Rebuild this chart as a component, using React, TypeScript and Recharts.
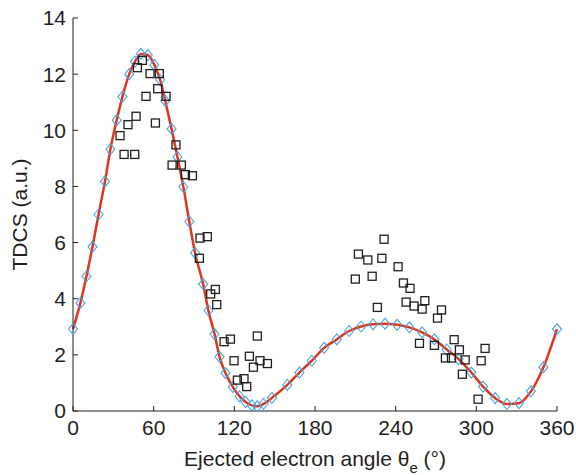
import React from 'react';
import { ComposedChart, Line, Scatter, XAxis, YAxis } from 'recharts';

// theory (red line + blue diamonds)
const theoryAngle = [
  0, 5.5, 10, 14.5, 19, 23.8, 27.8, 32.5, 36.8, 41.8, 46.1, 50.5, 55.6, 60.5, 64.8, 68.6,
  73.3, 77.7, 82.1, 86.5, 90.8, 96.8, 100.7, 105.3, 109, 113.4, 118.9, 123.9, 128.4, 133,
  137.1, 141.6, 148, 159.4, 168.4, 177.6, 186.8, 196.2, 205.4, 214.3, 223.2, 232.1, 241.1,
  250.2, 259.7, 268.8, 278, 286.9, 296.3, 305, 314, 322.7, 331.7, 340.6, 349.9, 360,
];
const theoryTdcs = [
  2.92, 3.85, 4.8, 5.85, 7.0, 8.18, 9.32, 10.36, 11.2, 12.0, 12.45, 12.72, 12.68, 12.33, 11.8, 11.05,
  10.05, 9.05, 7.98, 6.75, 5.63, 4.52, 3.58, 2.74, 1.93, 1.35, 0.86, 0.52, 0.32, 0.2,
  0.17, 0.25, 0.47, 0.93, 1.37, 1.79, 2.25, 2.55, 2.85, 3.01, 3.09, 3.11, 3.07,
  2.98, 2.8, 2.55, 2.19, 1.85, 1.37, 0.87, 0.46, 0.25, 0.28, 0.7, 1.56, 2.92,
];

// experiment (black squares)
const expAngle = [
  35.0, 38.0, 40.9, 45.9, 46.9, 47.9, 51.6, 54.3, 57.3, 61.3, 63.0, 64.2, 69.2, 73.7, 76.6,
  80.6, 83.6, 88.8, 94.0, 94.5, 99.9, 102.4, 105.9, 106.9, 112.4, 117.1, 119.8, 122.3, 127.2,
  129.2, 131.2, 134.2, 137.1, 139.1, 144.6, 210.0, 212.3, 219.3, 222.5, 226.4, 229.7, 231.4,
  241.8, 245.8, 247.8, 250.7, 253.7, 257.7, 259.7, 261.7, 268.8, 271.1, 274.1, 277.0, 281.5,
  283.5, 287.4, 289.6, 291.7, 301.3, 303.6, 306.5,
];
const expTdcs = [
  9.81, 9.14, 10.2, 9.14, 10.5, 12.23, 12.49, 11.21, 12.02, 10.26, 11.48, 12.02, 11.21, 8.76, 9.48,
  8.76, 8.42, 8.38, 5.44, 6.16, 6.21, 4.17, 4.33, 3.79, 2.47, 2.56, 1.79, 1.1, 1.15,
  0.87, 1.95, 1.56, 2.67, 1.79, 1.69, 4.7, 5.59, 5.38, 4.8, 3.69, 5.44, 6.12,
  5.14, 4.56, 3.88, 4.37, 3.74, 2.41, 3.63, 3.93, 2.34, 3.31, 3.6, 1.89, 1.89,
  2.54, 2.18, 1.31, 1.82, 0.42, 1.79, 2.23,
];

const angleTicks = [0, 60, 120, 180, 240, 300, 360];
const tdcsTicks = [0, 2, 4, 6, 8, 10, 12, 14];

const theory = theoryAngle.map((x, i) => ({ x, y: theoryTdcs[i] }));
const experiment = expAngle.map((x, i) => ({ x, y: expTdcs[i] }));

const font = '"Liberation Sans", Arial, sans-serif';
const ink = '#1e1e1e';

const renderDiamond = (p: any) => {
  const { cx, cy, index } = p;
  if (cx == null || cy == null) return <g key={index} />;
  return (
    <path
      key={index}
      d={`M${cx},${cy - 5.5}L${cx + 4.5},${cy}L${cx},${cy + 5.5}L${cx - 4.5},${cy}Z`}
      fill="none"
      stroke="#4aa3df"
      strokeWidth={1.1}
    />
  );
};

const renderSquare = (p: any) => (
  <rect x={p.cx - 4} y={p.cy - 4} width={8} height={8} fill="none" stroke={ink} strokeWidth={1.3} />
);

const AngleLabel = (props: any) => {
  const vb = props.viewBox;
  return (
    <text x={vb.x + vb.width / 2} y={vb.y + 55} textAnchor="middle" fontSize={21} fill={ink} fontFamily={font}>
      Ejected electron angle θ<tspan dy={7} fontSize={15}>e</tspan>
      <tspan dy={-7}> (°)</tspan>
    </text>
  );
};

const TdcsLabel = (props: any) => {
  const vb = props.viewBox;
  const x = vb.x + 27;
  const y = vb.y + vb.height / 2;
  return (
    <text x={x} y={y} transform={`rotate(-90, ${x}, ${y})`} textAnchor="middle" fontSize={21} fill={ink} fontFamily={font}>
      TDCS (a.u.)
    </text>
  );
};

const tickStyle = { fontSize: 21, fill: ink, fontFamily: font };

export default function App() {
  return (
    <div style={{ position: 'absolute', left: 0, top: 0, background: '#fff' }}>
      <ComposedChart width={576} height={475} margin={{ top: 18, right: 19, bottom: 0, left: 0 }}>
        <XAxis
          xAxisId="b"
          dataKey="x"
          type="number"
          domain={[0, 360]}
          ticks={angleTicks}
          interval={0}
          height={64}
          stroke={ink}
          tickSize={-5}
          tickMargin={14}
          tick={tickStyle}
          label={<AngleLabel />}
        />
        <XAxis
          xAxisId="t"
          orientation="top"
          type="number"
          domain={[0, 360]}
          ticks={angleTicks}
          interval={0}
          height={0}
          stroke={ink}
          tickSize={-5}
          tick={false}
        />
        <YAxis
          yAxisId="l"
          dataKey="y"
          type="number"
          domain={[0, 14]}
          ticks={tdcsTicks}
          interval={0}
          width={73}
          stroke={ink}
          tickSize={-5}
          tickMargin={12}
          tick={tickStyle}
          label={<TdcsLabel />}
        />
        <YAxis
          yAxisId="r"
          orientation="right"
          type="number"
          domain={[0, 14]}
          ticks={tdcsTicks}
          interval={0}
          width={0}
          stroke={ink}
          tickSize={-5}
          tick={false}
        />
        <Line
          data={theory}
          dataKey="y"
          xAxisId="b"
          yAxisId="l"
          type="monotone"
          stroke="#e0351b"
          strokeWidth={2.5}
          dot={renderDiamond}
          activeDot={false}
          isAnimationActive={false}
        />
        <Scatter
          data={experiment}
          dataKey="y"
          xAxisId="b"
          yAxisId="l"
          shape={renderSquare}
          isAnimationActive={false}
        />
      </ComposedChart>
    </div>
  );
}
